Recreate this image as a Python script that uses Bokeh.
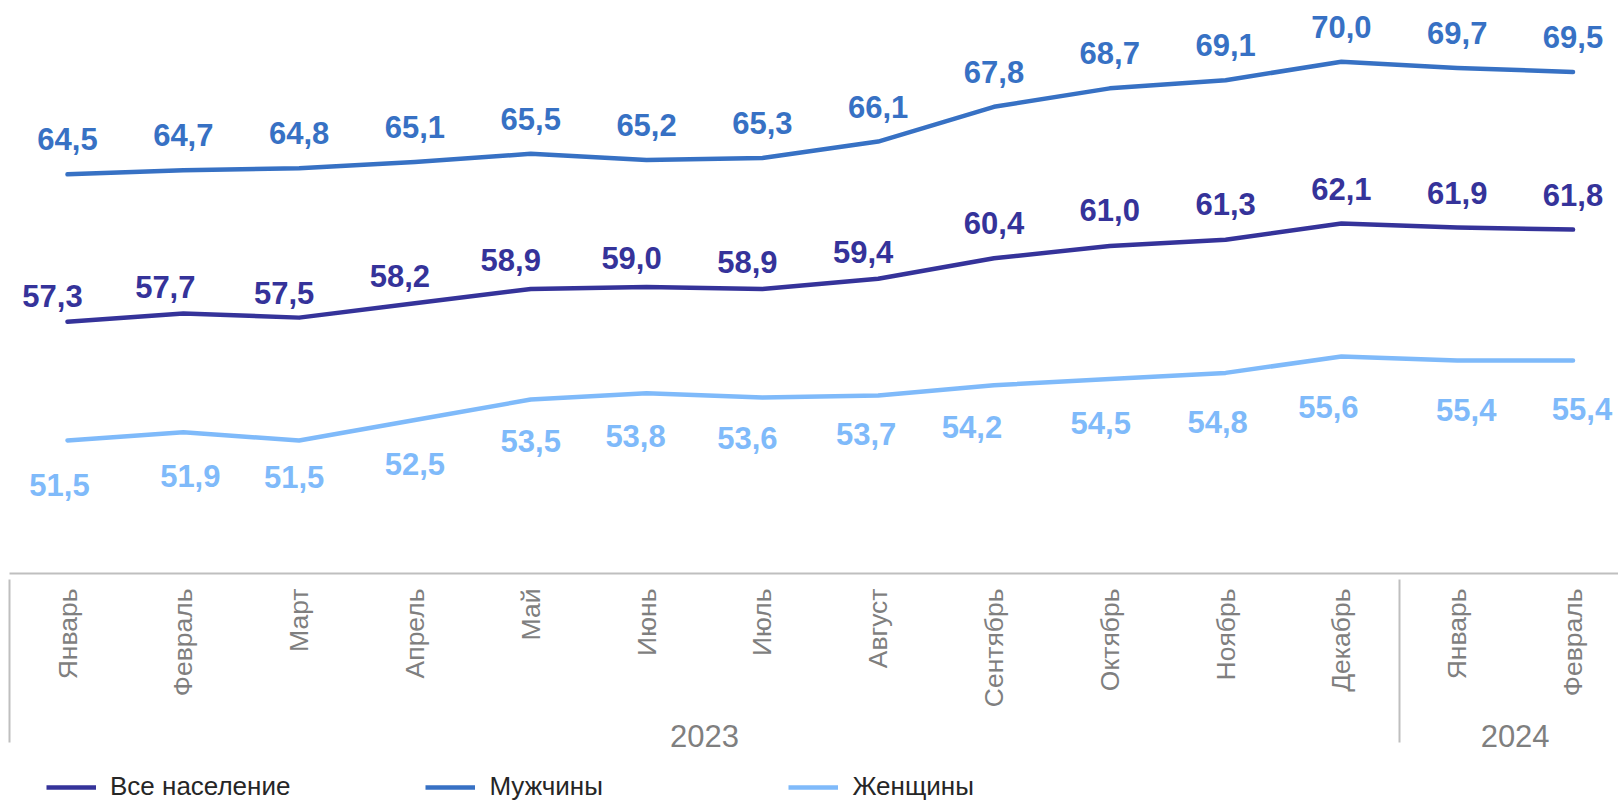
import math
from bokeh.plotting import figure
from bokeh.layouts import column
from bokeh.models import (ColumnDataSource, Range1d, LinearAxis, FixedTicker,
                          Legend, LegendItem)
from bokeh.core.properties import value
from bokeh.embed import file_html
from bokeh.resources import INLINE

# ---------------- data ----------------
months = ["Январь", "Февраль", "Март", "Апрель", "Май", "Июнь", "Июль",
          "Август", "Сентябрь", "Октябрь", "Ноябрь", "Декабрь",
          "Январь", "Февраль"]
years = ["2023", "2024"]
year_month_counts = [12, 2]

all_pop = [57.3, 57.7, 57.5, 58.2, 58.9, 59.0, 58.9, 59.4, 60.4, 61.0, 61.3, 62.1, 61.9, 61.8]
men = [64.5, 64.7, 64.8, 65.1, 65.5, 65.2, 65.3, 66.1, 67.8, 68.7, 69.1, 70.0, 69.7, 69.5]
women = [51.5, 51.9, 51.5, 52.5, 53.5, 53.8, 53.6, 53.7, 54.2, 54.5, 54.8, 55.6, 55.4, 55.4]
series_names = ["Все население", "Мужчины", "Женщины"]

# label nudges (screen px) as placed in the original
all_dx = [-15, -18, -15, -15, -20, -15, -15, -15, 0, 0, 0, 0, 0, 0]
all_dy = [-26, -27, -25, -27, -29, -29, -27, -27, -35, -36, -36, -34, -35, -35]
men_dx = [0] * 14
men_dy = [-35] * 14
women_dx = [-8, 7, -5, 0, 0, -11, -15, -12, -22, -9, -8, -13, 9, 9]
women_dy = [45, 44, 37, 44, 41, 43, 41, 39, 42, 44, 49, 50, 49, 48]

# ---------------- styles ----------------
C_ALL = "#35339A"
C_MEN = "#3771C4"
C_WOMEN = "#7FBAFA"
COLORS = [C_ALL, C_MEN, C_WOMEN]
GRAY = "#7F7F7F"
AXIS_GRAY = "#BFBFBF"
FONT = "Liberation Sans"

W, H = 1618, 802
left_border = 9
px_per_unit_x = 115.81
first_center_px = 58.0   # from frame left edge
px_per_unit_y = 20.47
frame_h = 573
frame_w = W - left_border
axes_area = 195
legend_h = H - frame_h - axes_area

x = list(range(len(months)))
x_start = -first_center_px / px_per_unit_x
x_end = x_start + frame_w / px_per_unit_x
y_min = 45.0
y_max = y_min + frame_h / px_per_unit_y

p = figure(frame_width=frame_w, frame_height=frame_h,
           output_backend="svg", toolbar_location=None,
           x_axis_location=None, y_axis_location=None,
           x_range=Range1d(x_start, x_end), y_range=Range1d(y_min, y_max),
           min_border_left=left_border, min_border_right=0, min_border_top=0,
           min_border_bottom=axes_area)
p.grid.visible = False
p.outline_line_color = None
p.background_fill_color = "white"
p.border_fill_color = "white"

def fmt(v):
    return f"{v:.1f}".replace(".", ",")

for vals, color, dx, dy in [(all_pop, C_ALL, all_dx, all_dy),
                            (men, C_MEN, men_dx, men_dy),
                            (women, C_WOMEN, women_dx, women_dy)]:
    src = ColumnDataSource(dict(x=x, y=vals, lab=[fmt(v) for v in vals],
                                dx=dx, dy=dy))
    p.line("x", "y", source=src, line_color=color, line_width=4.5,
           line_cap="round", line_join="round")
    p.text("x", "y", text="lab", source=src, x_offset="dx", y_offset="dy",
           text_align="center", text_baseline="middle",
           text_font=value(FONT), text_font_style="bold",
           text_font_size="31px", text_color=color)

# month axis with group separators as minor ticks
bounds = [-0.5]
acc = 0
for c in year_month_counts[:-1]:
    acc += c
    bounds.append(acc - 0.5)

SEP_LEN = 169
month_axis = LinearAxis(
    ticker=FixedTicker(ticks=x, minor_ticks=bounds),
    major_label_overrides={i: m for i, m in enumerate(months)},
    major_label_orientation=math.pi / 2,
    major_label_standoff=15 - SEP_LEN,
    major_tick_in=0, major_tick_out=0,
    minor_tick_in=-6, minor_tick_out=SEP_LEN,
    minor_tick_line_color=AXIS_GRAY, minor_tick_line_width=2,
    axis_line_color=AXIS_GRAY, axis_line_width=2,
    major_label_text_font=FONT, major_label_text_font_size="26.5px",
    major_label_text_color=GRAY)
p.add_layout(month_axis, "below")

# year axis
year_centers = []
start = 0
for c in year_month_counts:
    year_centers.append(start + (c - 1) / 2)
    start += c
year_axis = LinearAxis(
    ticker=FixedTicker(ticks=year_centers),
    major_label_overrides={c: y for c, y in zip(year_centers, years)},
    major_label_standoff=14,
    major_tick_in=0, major_tick_out=0,
    major_tick_line_color=None, minor_tick_line_color=None,
    axis_line_color=None,
    major_label_text_font=FONT, major_label_text_font_size="31px",
    major_label_text_color=GRAY)
p.add_layout(year_axis, "below")

# ---------------- legend strip ----------------
pl = figure(width=W, height=legend_h, output_backend="svg",
            toolbar_location=None, x_axis_location=None, y_axis_location=None,
            x_range=Range1d(0, 1), y_range=Range1d(0, 1),
            min_border_left=0, min_border_right=0, min_border_top=0,
            min_border_bottom=0)
pl.grid.visible = False
pl.outline_line_color = None
pl.background_fill_color = "white"
pl.border_fill_color = "white"

# legend-only renderers: their points lie outside the strip's visible range
legend_renderers = [pl.line(x=[5, 6], y=[5, 6], line_color=c, line_width=4.5)
                    for c in COLORS]
legend = Legend(
    items=[LegendItem(label=n, renderers=[r])
           for n, r in zip(series_names, legend_renderers)],
    orientation="horizontal", location=(37, 0),
    glyph_width=50, glyph_height=20, label_standoff=14,
    label_width=164, spacing=135, padding=0, margin=0,
    label_text_font=FONT, label_text_font_size="26px",
    label_text_color="#262626", border_line_color=None,
    background_fill_alpha=0)
pl.add_layout(legend, "center")

layout = column(p, pl, spacing=0)
open("out.html", "w").write(file_html(layout, INLINE))
